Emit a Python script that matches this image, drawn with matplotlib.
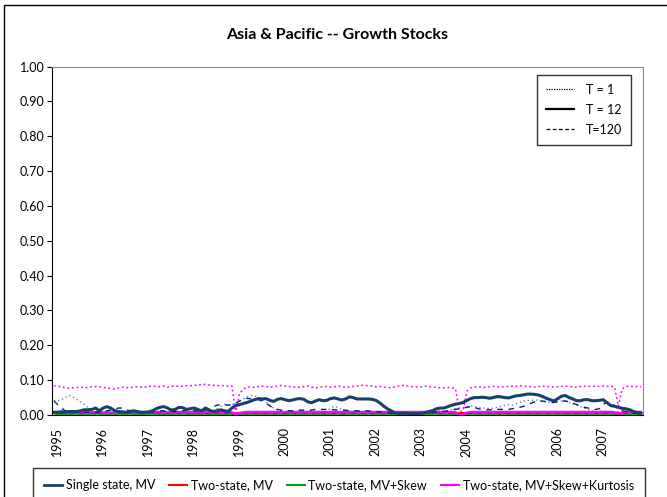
import matplotlib
matplotlib.use("Agg")
import matplotlib.pyplot as plt
import numpy as np
from matplotlib.lines import Line2D
from matplotlib.patches import Rectangle

plt.rcParams["font.family"] = ["Lato", "DejaVu Sans"]

#monthly optimal weights, jan 1995 - dec 2007, one row per year
singleT1 = [0.042,0.040,0.044,0.050,0.056,0.052,0.045,0.038,0.030,0.022,0.014,0.008,
            0.006,0.005,0.005,0.005,0.006,0.008,0.006,0.005,0.005,0.004,0.004,0.004,
            0.004,0.004,0.005,0.006,0.008,0.010,0.008,0.006,0.005,0.005,0.006,0.008,
            0.008,0.006,0.005,0.005,0.006,0.008,0.012,0.018,0.024,0.030,0.028,0.030,
            0.034,0.040,0.046,0.052,0.056,0.055,0.050,0.044,0.036,0.028,0.020,0.014,
            0.010,0.008,0.007,0.006,0.006,0.006,0.005,0.005,0.005,0.005,0.006,0.006,
            0.010,0.020,0.025,0.022,0.015,0.010,0.008,0.006,0.006,0.006,0.008,0.010,
            0.010,0.008,0.006,0.005,0.005,0.004,0.004,0.004,0.004,0.004,0.004,0.004,
            0.004,0.005,0.006,0.008,0.010,0.012,0.012,0.010,0.012,0.015,0.018,0.020,
            0.022,0.024,0.026,0.024,0.022,0.020,0.020,0.018,0.020,0.022,0.025,0.028,
            0.030,0.028,0.032,0.036,0.040,0.042,0.042,0.043,0.042,0.040,0.038,0.036,
            0.036,0.038,0.040,0.040,0.036,0.032,0.028,0.024,0.020,0.016,0.012,0.010,
            0.010,0.012,0.010,0.008,0.008,0.010,0.012,0.010,0.008,0.006,0.005,0.004]

singleT12 = [0.008,0.008,0.009,0.009,0.010,0.010,0.010,0.012,0.015,0.015,0.016,0.020,
             0.012,0.020,0.024,0.020,0.013,0.010,0.009,0.008,0.010,0.012,0.010,0.008,
             0.008,0.009,0.012,0.018,0.022,0.024,0.020,0.014,0.016,0.022,0.021,0.016,
             0.018,0.020,0.016,0.012,0.020,0.014,0.010,0.012,0.015,0.012,0.010,0.020,
             0.027,0.030,0.033,0.036,0.040,0.044,0.047,0.046,0.047,0.042,0.039,0.045,
             0.047,0.044,0.041,0.043,0.046,0.047,0.045,0.038,0.035,0.040,0.044,0.041,
             0.042,0.047,0.049,0.046,0.043,0.046,0.052,0.050,0.046,0.046,0.046,0.046,
             0.045,0.042,0.035,0.026,0.018,0.012,0.006,0.005,0.005,0.005,0.004,0.004,
             0.004,0.005,0.007,0.010,0.013,0.018,0.020,0.020,0.024,0.028,0.031,0.033,
             0.036,0.042,0.047,0.050,0.050,0.051,0.050,0.048,0.050,0.053,0.052,0.050,
             0.049,0.052,0.055,0.056,0.058,0.060,0.060,0.059,0.057,0.053,0.048,0.044,
             0.040,0.047,0.054,0.056,0.050,0.046,0.041,0.041,0.044,0.044,0.041,0.041,
             0.042,0.044,0.035,0.027,0.025,0.022,0.019,0.018,0.015,0.010,0.007,0.005]

singleT120 = [0.040,0.030,0.020,0.012,0.010,0.008,0.008,0.008,0.008,0.008,0.008,0.008,
              0.008,0.010,0.012,0.014,0.016,0.020,0.020,0.016,0.012,0.010,0.008,0.008,
              0.008,0.008,0.008,0.010,0.012,0.012,0.010,0.010,0.010,0.010,0.012,0.014,
              0.014,0.012,0.012,0.012,0.014,0.018,0.024,0.028,0.030,0.030,0.028,0.030,
              0.034,0.040,0.046,0.048,0.046,0.046,0.044,0.040,0.034,0.026,0.020,0.016,
              0.014,0.012,0.012,0.012,0.012,0.014,0.014,0.014,0.014,0.016,0.016,0.016,
              0.016,0.016,0.015,0.014,0.014,0.014,0.012,0.012,0.012,0.012,0.012,0.012,
              0.010,0.010,0.008,0.008,0.006,0.006,0.006,0.006,0.006,0.006,0.006,0.006,
              0.006,0.006,0.006,0.008,0.008,0.008,0.010,0.010,0.012,0.014,0.016,0.018,
              0.020,0.022,0.024,0.022,0.018,0.016,0.015,0.015,0.015,0.016,0.016,0.016,
              0.016,0.018,0.020,0.022,0.025,0.030,0.034,0.038,0.040,0.040,0.038,0.036,
              0.036,0.038,0.040,0.040,0.038,0.034,0.030,0.026,0.022,0.020,0.018,0.016,
              0.018,0.030,0.038,0.036,0.026,0.018,0.012,0.010,0.008,0.006,0.005,0.004]

kurtT1 = [0.084,0.083,0.081,0.078,0.077,0.078,0.079,0.080,0.078,0.079,0.081,0.082,
          0.081,0.079,0.077,0.076,0.075,0.077,0.080,0.079,0.078,0.080,0.081,0.080,
          0.080,0.082,0.083,0.082,0.081,0.083,0.080,0.082,0.083,0.082,0.083,0.084,
          0.084,0.085,0.086,0.087,0.088,0.086,0.085,0.084,0.085,0.084,0.083,0.083,
          0.005,0.062,0.074,0.080,0.081,0.079,0.082,0.083,0.082,0.080,0.081,0.083,
          0.085,0.083,0.082,0.081,0.079,0.080,0.082,0.083,0.080,0.078,0.079,0.081,
          0.082,0.080,0.081,0.083,0.082,0.079,0.080,0.082,0.083,0.085,0.085,0.084,
          0.083,0.081,0.082,0.080,0.079,0.078,0.081,0.083,0.085,0.084,0.082,0.081,
          0.080,0.081,0.083,0.081,0.080,0.079,0.078,0.078,0.079,0.078,0.076,0.010,
          0.012,0.068,0.078,0.080,0.081,0.080,0.079,0.081,0.082,0.081,0.080,0.081,
          0.082,0.083,0.082,0.084,0.083,0.082,0.081,0.080,0.082,0.083,0.082,0.081,
          0.080,0.081,0.082,0.083,0.082,0.081,0.080,0.082,0.083,0.082,0.083,0.082,
          0.082,0.083,0.082,0.083,0.080,0.025,0.075,0.082,0.083,0.081,0.082,0.081]

kurtT12 = [0.008,0.008,0.009,0.009,0.008,0.008,0.008,0.009,0.009,0.008,0.008,0.008,
           0.008,0.008,0.008,0.007,0.007,0.008,0.008,0.008,0.008,0.008,0.008,0.008,
           0.008,0.008,0.008,0.009,0.009,0.009,0.008,0.008,0.009,0.009,0.009,0.009,
           0.009,0.009,0.009,0.009,0.009,0.009,0.009,0.009,0.009,0.009,0.009,0.008,
           0.002,0.006,0.008,0.009,0.009,0.009,0.009,0.009,0.009,0.009,0.009,0.009,
           0.009,0.009,0.009,0.009,0.009,0.009,0.009,0.009,0.009,0.009,0.009,0.009,
           0.009,0.009,0.009,0.009,0.009,0.009,0.009,0.009,0.009,0.009,0.009,0.009,
           0.009,0.009,0.009,0.009,0.009,0.009,0.009,0.009,0.009,0.009,0.009,0.009,
           0.009,0.009,0.009,0.009,0.009,0.009,0.009,0.009,0.009,0.009,0.008,0.002,
           0.002,0.007,0.009,0.009,0.009,0.009,0.009,0.009,0.009,0.009,0.009,0.009,
           0.009,0.009,0.009,0.009,0.009,0.009,0.009,0.009,0.009,0.009,0.009,0.009,
           0.009,0.009,0.009,0.009,0.009,0.009,0.009,0.009,0.009,0.009,0.009,0.009,
           0.009,0.009,0.009,0.009,0.008,0.003,0.007,0.009,0.009,0.009,0.009,0.009]

kurtT120 = [0.005,0.005,0.005,0.005,0.005,0.005,0.005,0.005,0.005,0.005,0.005,0.005,
            0.005,0.005,0.005,0.005,0.005,0.005,0.005,0.005,0.005,0.005,0.005,0.005,
            0.005,0.005,0.005,0.005,0.005,0.005,0.005,0.005,0.005,0.005,0.005,0.005,
            0.005,0.005,0.005,0.005,0.005,0.005,0.005,0.005,0.005,0.005,0.005,0.005,
            0.003,0.004,0.005,0.005,0.005,0.005,0.005,0.005,0.005,0.005,0.005,0.005,
            0.005,0.005,0.005,0.005,0.005,0.005,0.005,0.005,0.005,0.005,0.005,0.005,
            0.005,0.005,0.005,0.005,0.005,0.005,0.005,0.005,0.005,0.005,0.005,0.005,
            0.005,0.005,0.005,0.005,0.005,0.005,0.005,0.005,0.005,0.005,0.005,0.005,
            0.005,0.005,0.005,0.005,0.005,0.005,0.005,0.005,0.005,0.005,0.005,0.003,
            0.003,0.004,0.005,0.005,0.005,0.005,0.005,0.005,0.005,0.005,0.005,0.005,
            0.005,0.005,0.005,0.005,0.005,0.005,0.005,0.005,0.005,0.005,0.005,0.005,
            0.005,0.005,0.005,0.005,0.005,0.005,0.005,0.005,0.005,0.005,0.005,0.005,
            0.005,0.005,0.005,0.005,0.005,0.003,0.004,0.005,0.005,0.005,0.005,0.005]

twoMvT12 = [0.006,0.006,0.006,0.006,0.006,0.006,0.006,0.006,0.006,0.006,0.006,0.006,
            0.006,0.006,0.006,0.006,0.006,0.006,0.006,0.006,0.006,0.006,0.006,0.006,
            0.006,0.006,0.006,0.006,0.006,0.006,0.006,0.006,0.006,0.006,0.006,0.006,
            0.006,0.006,0.006,0.006,0.006,0.006,0.006,0.006,0.006,0.006,0.006,0.006,
            0.006,0.006,0.006,0.006,0.006,0.006,0.006,0.006,0.006,0.006,0.006,0.006,
            0.006,0.006,0.006,0.006,0.006,0.006,0.006,0.006,0.006,0.006,0.006,0.006,
            0.006,0.006,0.006,0.006,0.006,0.006,0.006,0.006,0.006,0.006,0.006,0.006,
            0.006,0.006,0.006,0.006,0.006,0.006,0.006,0.006,0.006,0.006,0.006,0.006,
            0.006,0.006,0.006,0.006,0.006,0.006,0.006,0.006,0.006,0.006,0.006,0.006,
            0.006,0.006,0.006,0.006,0.006,0.006,0.006,0.006,0.006,0.006,0.006,0.006,
            0.006,0.006,0.006,0.006,0.006,0.006,0.006,0.006,0.006,0.006,0.006,0.006,
            0.006,0.006,0.006,0.006,0.006,0.006,0.006,0.006,0.006,0.006,0.006,0.006,
            0.006,0.006,0.006,0.006,0.006,0.006,0.006,0.006,0.006,0.006,0.006,0.006]

skewT12 = [0.001,0.001,0.001,0.001,0.001,0.001,0.001,0.001,0.001,0.001,0.001,0.001,
           0.001,0.001,0.001,0.001,0.001,0.001,0.001,0.001,0.001,0.001,0.001,0.001,
           0.001,0.001,0.001,0.001,0.001,0.001,0.001,0.001,0.001,0.001,0.001,0.001,
           0.001,0.001,0.001,0.001,0.001,0.001,0.001,0.001,0.001,0.001,0.001,0.001,
           0.001,0.001,0.001,0.001,0.001,0.001,0.001,0.001,0.001,0.001,0.001,0.001,
           0.001,0.001,0.001,0.001,0.001,0.001,0.001,0.001,0.001,0.001,0.001,0.001,
           0.001,0.001,0.001,0.001,0.001,0.001,0.001,0.001,0.001,0.001,0.001,0.001,
           0.001,0.001,0.001,0.001,0.001,0.001,0.001,0.001,0.001,0.001,0.001,0.001,
           0.001,0.001,0.001,0.001,0.001,0.001,0.001,0.001,0.001,0.001,0.001,0.001,
           0.001,0.001,0.001,0.001,0.001,0.001,0.001,0.001,0.001,0.001,0.001,0.001,
           0.001,0.001,0.001,0.001,0.001,0.001,0.001,0.001,0.001,0.001,0.001,0.001,
           0.001,0.001,0.001,0.001,0.001,0.001,0.001,0.001,0.001,0.001,0.001,0.001,
           0.001,0.001,0.001,0.001,0.001,0.001,0.001,0.001,0.001,0.001,0.001,0.001]

yearLabels = ["1995", "1996", "1997", "1998", "1999", "2000", "2001",
              "2002", "2003", "2004", "2005", "2006", "2007"]
seriesNames = ["Single state, MV", "Two-state, MV", "Two-state, MV+Skew",
               "Two-state, MV+Skew+Kurtosis"]
horizonNames = ["T = 1", "T = 12", "T=120"]

navy = "#17406d"
magenta = "#ff00ff"
months = np.arange(len(singleT12))

fig = plt.figure(figsize=(6.67, 4.97), dpi=100)
ax = fig.add_axes([52/667, 82/497, 591/667, 348.5/497])

#outer chart border, right and bottom run off the picture
fig.add_artist(Rectangle((4/667, -0.1), 1.2, 1.1 - 5/497, transform=fig.transFigure,
                         fill=False, edgecolor="black", linewidth=1.0))

ax.plot(months, skewT12, color="#00a000", linewidth=2.0, solid_capstyle="butt")
ax.plot(months, twoMvT12, color="red", linewidth=1.5)
ax.plot(months, kurtT120, color=magenta, linewidth=1.0, linestyle=(0, (4, 3)))
ax.plot(months, kurtT12, color=magenta, linewidth=1.6)
ax.plot(months, kurtT1, color=magenta, linewidth=1.1, linestyle=(0, (1.2, 1.8)))
ax.plot(months, singleT1, color="#4a5fa8", linewidth=1.0, linestyle=(0, (1, 2)), alpha=0.8)
ax.plot(months, singleT120, color="#0a1f80", linewidth=1.0, linestyle=(0, (4, 4)))
ax.plot(months, singleT12, color=navy, linewidth=2.2)

ax.set_xlim(-0.5, len(months) - 0.5)
ax.set_ylim(0, 1.0)
ax.set_yticks(np.arange(0, 1.01, 0.1))
ax.yaxis.set_major_formatter(matplotlib.ticker.FormatStrFormatter("%.2f"))
ax.tick_params(axis="y", length=3.5, width=0.8, labelsize=9, pad=2)
ax.set_xticks(np.arange(len(yearLabels)) * 12 + 0.8)
ax.set_xticklabels(yearLabels, rotation=90, fontsize=9)
ax.tick_params(axis="x", length=0, pad=9)

for side in ["top", "right"]:
    ax.spines[side].set_color("#8c8c8c")
for side in ["left", "bottom"]:
    ax.spines[side].set_color("black")

fig.text(337/667, 1 - 35/497, "Asia & Pacific -- Growth Stocks", ha="center", va="center",
         fontsize=11.5, fontweight="bold")

#inner legend for the horizons
horizonHandles = [Line2D([], [], color="black", linewidth=0.9, linestyle=(0, (1, 1))),
                  Line2D([], [], color="black", linewidth=1.6),
                  Line2D([], [], color="black", linewidth=0.9, linestyle=(0, (3, 2)))]
ax.legend(horizonHandles, horizonNames, loc="upper right", bbox_to_anchor=(0.98, 0.976),
          frameon=True, fancybox=False, edgecolor="black", fontsize=9,
          handlelength=2.2, handletextpad=1.0, labelspacing=0.65, borderpad=0.7,
          borderaxespad=0)

#bottom legend for the models
modelHandles = [Line2D([], [], color=navy, linewidth=2.0),
                Line2D([], [], color="red", linewidth=1.5),
                Line2D([], [], color="#00a000", linewidth=1.5),
                Line2D([], [], color=magenta, linewidth=1.5)]
fig.legend(modelHandles, seriesNames, loc="upper left", bbox_to_anchor=(33/667, 1 - 468/497),
           ncol=4, frameon=True, fancybox=False, edgecolor="black", fontsize=9,
           handlelength=1.4, handletextpad=0.3, columnspacing=1.15, borderpad=0.9,
           borderaxespad=0)

fig.savefig("out.png", dpi=100)
